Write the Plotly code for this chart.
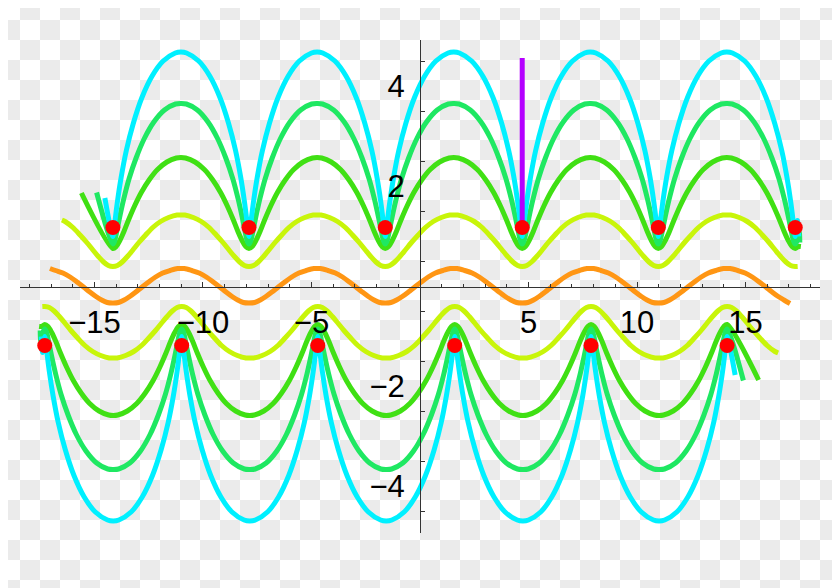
import math
import plotly.graph_objects as go

# ---------------- data ----------------
# x positions of the cusps / minima of the upper family and of the maxima of the lower family
upper_centres = [-14.15, -7.88, -1.60, 4.71, 10.98, 17.29]
lower_centres = [-17.29, -10.98, -4.71, 1.60, 7.88, 14.15]

# half-arch profiles: horizontal offset from a centre (centre -> crest), height (upper family)
cyan_dx = [0.00, 0.04, 0.10, 0.21, 0.38, 0.62, 0.94, 1.34, 1.81, 2.32, 2.88, 3.14]
cyan_y = [1.00, 1.08, 1.32, 1.70, 2.18, 2.72, 3.26, 3.78, 4.21, 4.51, 4.67, 4.69]

spring_dx = [0.00, 0.08, 0.18, 0.31, 0.50, 0.75, 1.07, 1.45, 1.89, 2.38, 2.89, 3.14]
spring_y = [0.85, 0.91, 1.10, 1.38, 1.75, 2.16, 2.57, 2.96, 3.29, 3.53, 3.65, 3.66]

green_dx = [0.00, 0.15, 0.32, 0.51, 0.73, 1.00, 1.31, 1.67, 2.06, 2.49, 2.93, 3.14]
green_y = [0.76, 0.80, 0.92, 1.10, 1.34, 1.61, 1.88, 2.13, 2.34, 2.49, 2.57, 2.58]

lime_dx = [0.00, 0.21, 0.43, 0.67, 0.92, 1.20, 1.51, 1.84, 2.20, 2.57, 2.96, 3.14]
lime_y = [0.40, 0.42, 0.49, 0.60, 0.73, 0.88, 1.03, 1.18, 1.30, 1.38, 1.43, 1.43]

orange_dx = [0.00, 0.26, 0.52, 0.78, 1.06, 1.35, 1.65, 1.97, 2.30, 2.64, 2.98, 3.14]
orange_y = [-0.33, -0.32, -0.27, -0.20, -0.11, -0.01, 0.09, 0.19, 0.27, 0.32, 0.36, 0.36]

# where each upper curve starts / ends (x, y); the lower family is the mirror image
cyan_ends = [(-14.52, 1.77), (17.45, 1.00)]
spring_ends = [(-14.90, 1.88), (17.50, 0.88)]
green_ends = [(-15.60, 1.87), (17.55, 0.80)]
lime_ends = [(-16.50, 1.33), (17.40, 0.40)]
orange_ends = [(-17.05, 0.36), (17.05, -0.34)]

# red dots
dots_x = [-14.15, -7.88, -1.60, 4.71, 10.98, 17.29, -17.29, -10.98, -4.71, 1.60, 7.88, 14.15]
dots_y = [1.18, 1.18, 1.18, 1.18, 1.18, 1.18, -1.18, -1.18, -1.18, -1.18, -1.18, -1.18]

# purple segment
purple_x = [4.71, 4.71]
purple_y = [1.18, 4.57]

# tick labels
xtick_vals = [-15, -10, -5, 5, 10, 15]
ytick_vals = [-4, -2, 2, 4]
ytick_minor = [-4.5, -3.5, -2.5, -1.5, -0.5, 0.5, 1.5, 2.5, 3.5, 4.5]

colors = {
    "cyan": "#00f0ff",
    "spring": "#1fe862",
    "green": "#40e014",
    "lime": "#c8f50a",
    "orange": "#ff9614",
    "purple": "#b400ff",
    "red": "#ff0000",
}


def arches(centres, dx, ys):
    """Place the read half-arch profile on both sides of every centre (one arch per gap)."""
    period = (centres[-1] - centres[0]) / (len(centres) - 1)
    ext = [centres[0] - period] + list(centres) + [centres[-1] + period]
    pts = []
    for c0, c1 in zip(ext[:-1], ext[1:]):
        s = (c1 - c0) / (2 * dx[-1])
        for d, y in zip(dx[:-1], ys[:-1]):
            pts.append((c0 + d * s, y))
        pts.append(((c0 + c1) / 2, ys[-1]))
        for d, y in zip(dx[-2:0:-1], ys[-2:0:-1]):
            pts.append((c1 - d * s, y))
    pts.append((ext[-1], ys[0]))
    return pts


def build(centres, dx, ys, ends, cusp_type):
    pts = arches(centres, dx, ys)
    (x0, y0), (x1, y1) = ends
    if cusp_type:
        lo, hi = centres[0] - 1e-6, x1
    else:
        lo, hi = x0 + 0.05, x1 - 0.05
    keep = [p for p in pts if lo <= p[0] < hi]
    keep = [(x0, y0)] + keep + [(x1, y1)]
    return [p[0] for p in keep], [p[1] for p in keep]


fig = go.Figure()

curves = [
    ("orange", orange_dx, orange_y, orange_ends, False),
    ("lime", lime_dx, lime_y, lime_ends, False),
    ("green", green_dx, green_y, green_ends, True),
    ("spring", spring_dx, spring_y, spring_ends, True),
    ("cyan", cyan_dx, cyan_y, cyan_ends, True),
]
for name, dx, ys, ends, cusp in curves:
    x, y = build(upper_centres, dx, ys, ends, cusp)
    fig.add_trace(go.Scatter(x=x, y=y, mode="lines",
                             line=dict(color=colors[name], width=5, shape="spline", smoothing=0.9),
                             hoverinfo="skip"))
    if name != "orange":
        # lower family: the picture is point-symmetric about the origin
        lx = [-v for v in x][::-1]
        ly = [-v for v in y][::-1]
        fig.add_trace(go.Scatter(x=lx, y=ly, mode="lines",
                                 line=dict(color=colors[name], width=5, shape="spline", smoothing=0.9),
                                 hoverinfo="skip"))

fig.add_trace(go.Scatter(x=purple_x, y=purple_y, mode="lines", line=dict(color=colors["purple"], width=5),
                         hoverinfo="skip"))
fig.add_trace(go.Scatter(x=dots_x, y=dots_y, mode="markers", marker=dict(color=colors["red"], size=15),
                         hoverinfo="skip"))

# page has an 8 px body margin: the figure is drawn 8 px smaller and margins shifted
OFF = 8
W, H = 840 - OFF, 588 - OFF
ML, MR, MT, MB = 20 - OFF, 20, 40 - OFF, 55
pw, ph = W - ML - MR, H - MT - MB

# checkerboard backdrop (20 px squares, page coordinates) as one paper-referenced path
parts = []
for row in range(0, 30):
    for col in range(0, 42):
        if (row + col) % 2 == 1:
            px0, px1 = col * 20 - OFF, col * 20 + 20 - OFF
            py0, py1 = row * 20 - OFF, row * 20 + 20 - OFF
            px0, py0 = max(px0, 0), max(py0, 0)
            px1, py1 = min(px1, W), min(py1, H)
            if px1 <= px0 or py1 <= py0:
                continue
            a0, a1 = (px0 - ML) / pw, (px1 - ML) / pw
            b0, b1 = (H - MB - py0) / ph, (H - MB - py1) / ph
            parts.append(f"M{a0:.5f},{b0:.5f}H{a1:.5f}V{b1:.5f}H{a0:.5f}Z")
fig.add_shape(type="path", path="".join(parts), xref="paper", yref="paper",
              fillcolor="#ebebeb", line=dict(width=0), layer="below")

axis_font = dict(family="Liberation Sans, Arial, sans-serif", size=31, color="#000000")
fig.update_layout(
    width=W, height=H,
    margin=dict(l=ML, r=MR, t=MT, b=MB, pad=0),
    paper_bgcolor="#ffffff", plot_bgcolor="rgba(0,0,0,0)",
    showlegend=False,
    xaxis=dict(range=[-18.43, 18.43], anchor="free", position=0.5, showline=True, linecolor="#333333",
               linewidth=1, zeroline=False, showgrid=False, tickmode="array", tickvals=xtick_vals,
               ticks="inside", ticklen=5, tickcolor="#333333", tickfont=axis_font, ticklabelstandoff=8,
               minor=dict(dtick=1, tick0=0, ticks="inside", ticklen=3, tickcolor="#333333", showgrid=False)),
    yaxis=dict(range=[-4.93, 4.93], anchor="free", position=0.5, showline=True, linecolor="#333333",
               linewidth=1, zeroline=False, showgrid=False, tickmode="array", tickvals=ytick_vals,
               ticks="", tickfont=axis_font, ticklabelstandoff=9,
               minor=dict(tickmode="array", tickvals=ytick_minor, ticks="inside", ticklen=4,
                          tickcolor="#333333", showgrid=False)),
)

fig.write_html("out.html")
